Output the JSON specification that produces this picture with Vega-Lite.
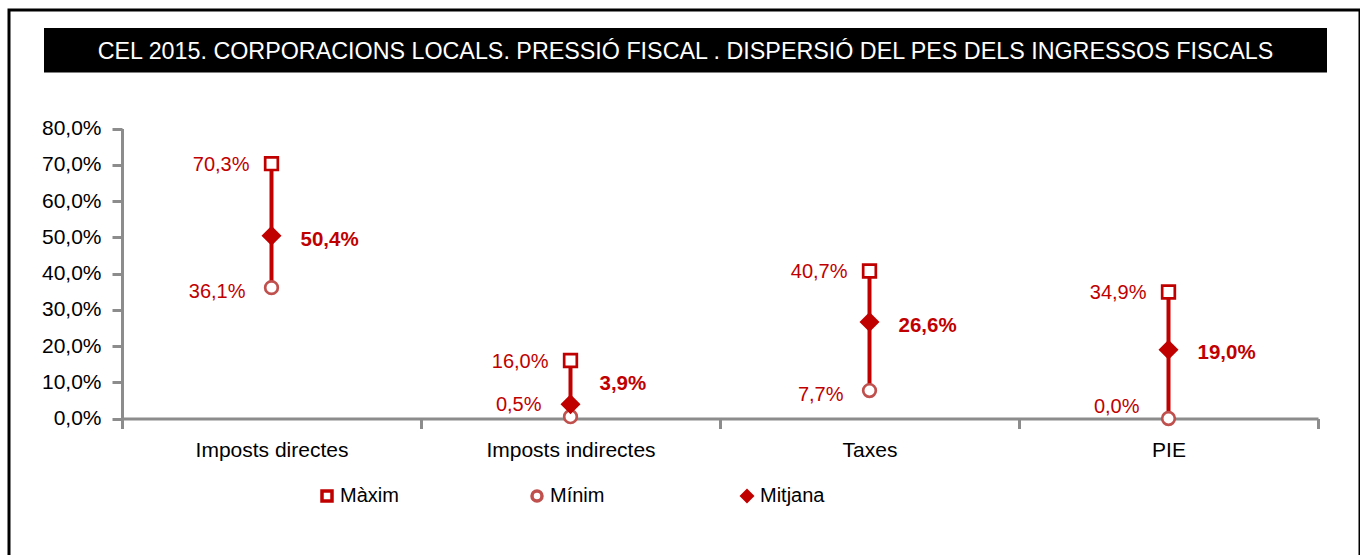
{
  "$schema": "https://vega.github.io/schema/vega-lite/v6.json",
  "background": "white",
  "padding": {"left": 9, "top": 10, "right": 0, "bottom": 0},
  "width": 1351,
  "height": 560,
  "view": {"stroke": "black", "strokeWidth": 3, "fill": "white"},
  "config": {
    "locale": {"number": {"decimal": ",", "thousands": ".", "grouping": [3], "currency": ["", " €"]}},
    "font": "Liberation Sans, Arial, sans-serif",
    "legend": {
      "title": null, "orient": "none", "legendX": 308, "legendY": 476, "direction": "horizontal",
      "columns": 3, "gridAlign": "all", "columnPadding": 120, "labelFontSize": 20, "labelColor": "black",
      "labelOffset": 3, "symbolSize": 100, "symbolStrokeWidth": 3.5
    }
  },
  "datasets": {
    "dades": [
      {"categoria": "Imposts directes", "Màxim": 0.703, "Mínim": 0.361, "Mitjana": 0.504},
      {"categoria": "Imposts indirectes", "Màxim": 0.160, "Mínim": 0.005, "Mitjana": 0.039},
      {"categoria": "Taxes", "Màxim": 0.407, "Mínim": 0.077, "Mitjana": 0.266},
      {"categoria": "PIE", "Màxim": 0.349, "Mínim": 0.000, "Mitjana": 0.190}
    ],
    "titol": [
      {"text": "CEL 2015. CORPORACIONS LOCALS. PRESSIÓ FISCAL . DISPERSIÓ  DEL PES DELS INGRESSOS FISCALS"}
    ]
  },
  "resolve": {"scale": {"x": "independent", "y": "independent"}},
  "layer": [
    {
      "data": {"name": "dades"},
      "encoding": {
        "x": {
          "field": "categoria",
          "type": "nominal",
          "sort": ["Imposts directes", "Imposts indirectes", "Taxes", "PIE"],
          "scale": {"type": "band", "domain": ["Imposts directes", "Imposts indirectes", "Taxes", "PIE"], "range": [113, 1309], "paddingInner": 0, "paddingOuter": 0},
          "axis": {
            "title": null, "labelAngle": 0, "labelFontSize": 21, "labelColor": "black",
            "labelPadding": 11, "tickSize": 10, "tickWidth": 3, "tickColor": "#8C8C8C",
            "domainColor": "#8C8C8C", "domainWidth": 3, "tickBand": "extent", "offset": -151.5, "grid": false
          }
        }
      },
      "layer": [
        {
          "mark": {"type": "rule", "color": "#C00000", "strokeWidth": 4},
          "encoding": {
            "y": {
              "field": "Màxim", "type": "quantitative",
              "scale": {"domain": [0, 0.8], "range": [408.5, 118.5], "nice": false, "zero": false},
              "axis": {
                "title": null, "values": [0, 0.1, 0.2, 0.3, 0.4, 0.5, 0.6, 0.7, 0.8], "format": ".1%",
                "labelFontSize": 21, "labelColor": "black",
                "labelPadding": 11, "tickSize": 10, "tickWidth": 3, "tickColor": "#8C8C8C",
                "domainColor": "#8C8C8C", "domainWidth": 3, "offset": -113, "grid": false
              }
            },
            "y2": {"field": "Mínim"}
          }
        },
        {
          "transform": [
            {"fold": ["Màxim", "Mínim", "Mitjana"], "as": ["serie", "valor"]},
            {"filter": "datum.serie === 'Màxim'"}
          ],
          "mark": {"type": "point", "opacity": 1, "fillOpacity": 1, "size": 160, "strokeWidth": 2.7},
          "encoding": {
            "y": {"field": "valor", "type": "quantitative"},
            "shape": {
              "field": "serie", "type": "nominal",
              "scale": {"domain": ["Màxim", "Mínim", "Mitjana"], "range": ["square", "circle", "diamond"]},
              "legend": {"encode": {"symbols": {"update": {
                "size": {"signal": "datum.value === 'Mitjana' ? 55 : datum.value === 'Mínim' ? 55 : 100"},
                "strokeWidth": {"signal": "datum.value === 'Mitjana' ? 0 : 3.5"}
              }}}}
            },
            "fill": {
              "field": "serie", "type": "nominal",
              "scale": {"domain": ["Màxim", "Mínim", "Mitjana"], "range": ["#FFFFFF", "#FFFFFF", "#C00000"]},
              "legend": {"encode": {"symbols": {"update": {
                "size": {"signal": "datum.value === 'Mitjana' ? 55 : datum.value === 'Mínim' ? 55 : 100"},
                "strokeWidth": {"signal": "datum.value === 'Mitjana' ? 0 : 3.5"}
              }}}}
            },
            "stroke": {
              "field": "serie", "type": "nominal",
              "scale": {"domain": ["Màxim", "Mínim", "Mitjana"], "range": ["#C00000", "#C0504D", "#C00000"]},
              "legend": {"encode": {"symbols": {"update": {
                "size": {"signal": "datum.value === 'Mitjana' ? 55 : datum.value === 'Mínim' ? 55 : 100"},
                "strokeWidth": {"signal": "datum.value === 'Mitjana' ? 0 : 3.5"}
              }}}}
            }
          }
        },
        {
          "transform": [
            {"fold": ["Màxim", "Mínim", "Mitjana"], "as": ["serie", "valor"]},
            {"filter": "datum.serie === 'Mínim'"}
          ],
          "mark": {"type": "point", "opacity": 1, "fillOpacity": 1, "size": 160, "strokeWidth": 2.7},
          "encoding": {
            "y": {"field": "valor", "type": "quantitative"},
            "shape": {"field": "serie", "type": "nominal"},
            "fill": {"field": "serie", "type": "nominal"},
            "stroke": {"field": "serie", "type": "nominal"}
          }
        },
        {
          "transform": [
            {"fold": ["Màxim", "Mínim", "Mitjana"], "as": ["serie", "valor"]},
            {"filter": "datum.serie === 'Mitjana'"}
          ],
          "mark": {"type": "point", "opacity": 1, "fillOpacity": 1, "size": 400, "strokeWidth": 0},
          "encoding": {
            "y": {"field": "valor", "type": "quantitative"},
            "shape": {"field": "serie", "type": "nominal"},
            "fill": {"field": "serie", "type": "nominal"},
            "stroke": {"field": "serie", "type": "nominal"}
          }
        },
        {
          "mark": {"type": "text", "align": "right", "baseline": "middle", "dx": -22, "dy": 1.5, "color": "#C00000", "fontSize": 20},
          "encoding": {
            "y": {"field": "Màxim", "type": "quantitative"},
            "text": {"field": "Màxim", "type": "quantitative", "format": ".1%"}
          }
        },
        {
          "transform": [{"filter": "datum['Mínim'] >= 0.05"}],
          "mark": {"type": "text", "align": "right", "baseline": "middle", "dx": -26, "dy": 4, "color": "#C00000", "fontSize": 20},
          "encoding": {
            "y": {"field": "Mínim", "type": "quantitative"},
            "text": {"field": "Mínim", "type": "quantitative", "format": ".1%"}
          }
        },
        {
          "transform": [{"filter": "datum['Mínim'] < 0.05"}],
          "mark": {"type": "text", "align": "right", "baseline": "middle", "dx": -29, "dy": -11.5, "color": "#C00000", "fontSize": 20},
          "encoding": {
            "y": {"field": "Mínim", "type": "quantitative"},
            "text": {"field": "Mínim", "type": "quantitative", "format": ".1%"}
          }
        },
        {
          "transform": [{"filter": "datum['Mitjana'] >= 0.05"}],
          "mark": {"type": "text", "align": "left", "baseline": "middle", "dx": 29, "dy": 3.7, "color": "#C00000", "fontSize": 20.5, "fontWeight": "bold"},
          "encoding": {
            "y": {"field": "Mitjana", "type": "quantitative"},
            "text": {"field": "Mitjana", "type": "quantitative", "format": ".1%"}
          }
        },
        {
          "transform": [{"filter": "datum['Mitjana'] < 0.05"}],
          "mark": {"type": "text", "align": "left", "baseline": "middle", "dx": 29, "dy": -20, "color": "#C00000", "fontSize": 20.5, "fontWeight": "bold"},
          "encoding": {
            "y": {"field": "Mitjana", "type": "quantitative"},
            "text": {"field": "Mitjana", "type": "quantitative", "format": ".1%"}
          }
        }
      ]
    },
    {
      "data": {"name": "titol"},
      "layer": [
        {
          "mark": {"type": "rect", "color": "black"},
          "encoding": {
            "x": {"datum": 0, "type": "quantitative", "scale": {"domain": [0, 1], "range": [35, 1318], "nice": false, "zero": false}, "axis": null},
            "x2": {"datum": 1},
            "y": {"datum": 0, "type": "quantitative", "scale": {"domain": [0, 1], "range": [62.5, 18], "nice": false, "zero": false}, "axis": null},
            "y2": {"datum": 1}
          }
        },
        {
          "mark": {"type": "text", "color": "white", "fontSize": 23.3, "baseline": "middle", "align": "center", "dy": 1.5},
          "encoding": {
            "x": {"datum": 0.5, "type": "quantitative"},
            "y": {"datum": 0.5, "type": "quantitative"},
            "text": {"field": "text", "type": "nominal"}
          }
        }
      ]
    }
  ]
}
